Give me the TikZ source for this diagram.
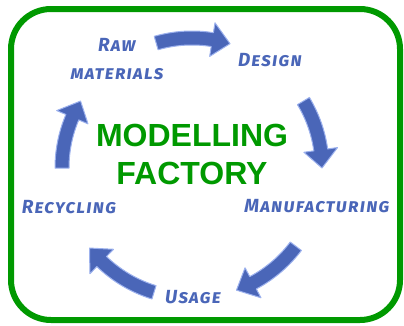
\documentclass[tikz,border=0pt]{standalone}
\usepackage{fontspec}
\setmainfont{Liberation Sans}
\newfontfamily\handfont[Letters=SmallCaps,LetterSpace=6]{Fira Sans}
\usepackage{xcolor}
\usepackage{tikz}

\definecolor{factorygreen}{HTML}{009900}
\definecolor{cycleblue}{HTML}{4A66B8}
\definecolor{glowblue}{HTML}{9DB2EE}

\tikzset{
  stage/.style={text=cycleblue, font=\handfont\bfseries\itshape\fontsize{19}{28}\selectfont, align=center},
  title/.style={text=factorygreen, font=\bfseries\fontsize{32}{38}\selectfont, align=center},
  cyclearrow/.style={fill=cycleblue, draw=glowblue, line width=1pt, line join=round},
}

\begin{document}
\begin{tikzpicture}[x=1pt,y=1pt]
                \useasboundingbox (0,0) rectangle (404,325);
                \draw[factorygreen, line width=6pt, rounded corners=40pt] (11,5) rectangle (400,316);
                % the five arrows of the cycle
                \begin{scope}[shift={(192,157)}]
                \foreach \a/\b in {106/73, 31/0, -37/-70, -107/-142, 180/149} {
                    \pgfmathsetmacro\c{\b+8}
                    \path[cyclearrow] (\a:137pt) arc[start angle=\a, end angle=\c, radius=137pt]
                        -- (\c:147pt) -- (\b:130pt) -- (\c:113pt) -- (\c:123pt)
                        arc[start angle=\c, end angle=\a, radius=123pt] -- cycle;
                }
                \end{scope}
                \node[title] (title) at (192,171) {MODELLING\\FACTORY};
                \node[stage] (raw) at (117,266) {Raw\\materials};
                \node[stage] (design) at (270,265) {Design};
                \node[stage] (manuf) at (317,119) {Manufacturing};
                \node[stage] (recyc) at (69,118) {Recycling};
                \node[stage] (usage) at (193,28) {Usage};
            \end{tikzpicture}
\end{document}
